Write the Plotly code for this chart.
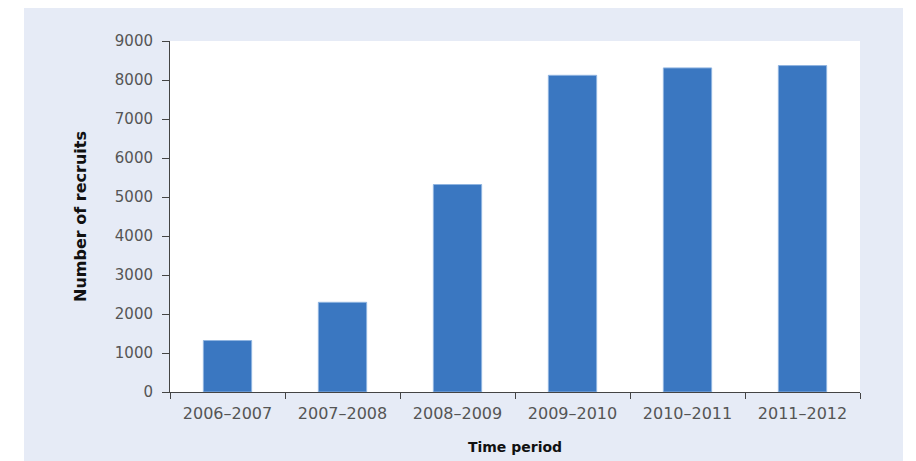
import plotly.graph_objects as go

periods = ["2006–2007", "2007–2008", "2008–2009", "2009–2010", "2010–2011", "2011–2012"]
recruits = [1320, 2300, 5320, 8120, 8310, 8370]
y_ticks = [0, 1000, 2000, 3000, 4000, 5000, 6000, 7000, 8000, 9000]

fig = go.Figure(go.Bar(
    x=periods, y=recruits,
    marker=dict(color="#3a77c1", line=dict(color="#8fb4e0", width=1)),
    width=0.42,
))

fig.update_layout(
    width=916, height=461,
    margin=dict(l=170, r=56, t=41, b=69),
    paper_bgcolor="#e6ebf6",
    plot_bgcolor="white",
    showlegend=False,
    font=dict(family="DejaVu Sans, Liberation Sans, sans-serif", size=14, color="#505050"),
    shapes=[
        dict(type="rect", xref="paper", yref="paper", x0=-170/690, x1=-146/690, y0=-0.3, y1=1.3,
             fillcolor="white", line=dict(width=0), layer="above"),
        dict(type="rect", xref="paper", yref="paper", x0=-0.3, x1=1.3, y0=1 + 33/351, y1=1.3,
             fillcolor="white", line=dict(width=0), layer="above"),
        dict(type="rect", xref="paper", yref="paper", x0=(903-170)/690, x1=1.2, y0=-0.3, y1=1.3,
             fillcolor="white", line=dict(width=0), layer="above"),
    ],
)

fig.update_yaxes(
    range=[0, 9000], tickvals=y_ticks, showgrid=False, zeroline=False, automargin=False,
    showline=True, linecolor="#444", linewidth=1,
    ticks="outside", ticklen=7, tickcolor="#444", ticklabelstandoff=6,
    tickfont=dict(family="DejaVu Sans, sans-serif", size=15, color="#555"),
    title=dict(text="<b>Number of recruits</b>",
               font=dict(family="DejaVu Sans, sans-serif", size=16, color="#111"), standoff=24),
)
fig.update_xaxes(
    showgrid=False, showline=True, linecolor="#444", linewidth=1, automargin=False,
    ticks="outside", ticklen=6, tickcolor="#444", tickson="boundaries", ticklabelstandoff=7,
    tickfont=dict(family="DejaVu Sans, sans-serif", size=16, color="#555"),
    title=dict(text="<b>Time period</b>",
               font=dict(family="DejaVu Sans, sans-serif", size=14, color="#111"), standoff=19),
)

fig.write_html("out.html")
